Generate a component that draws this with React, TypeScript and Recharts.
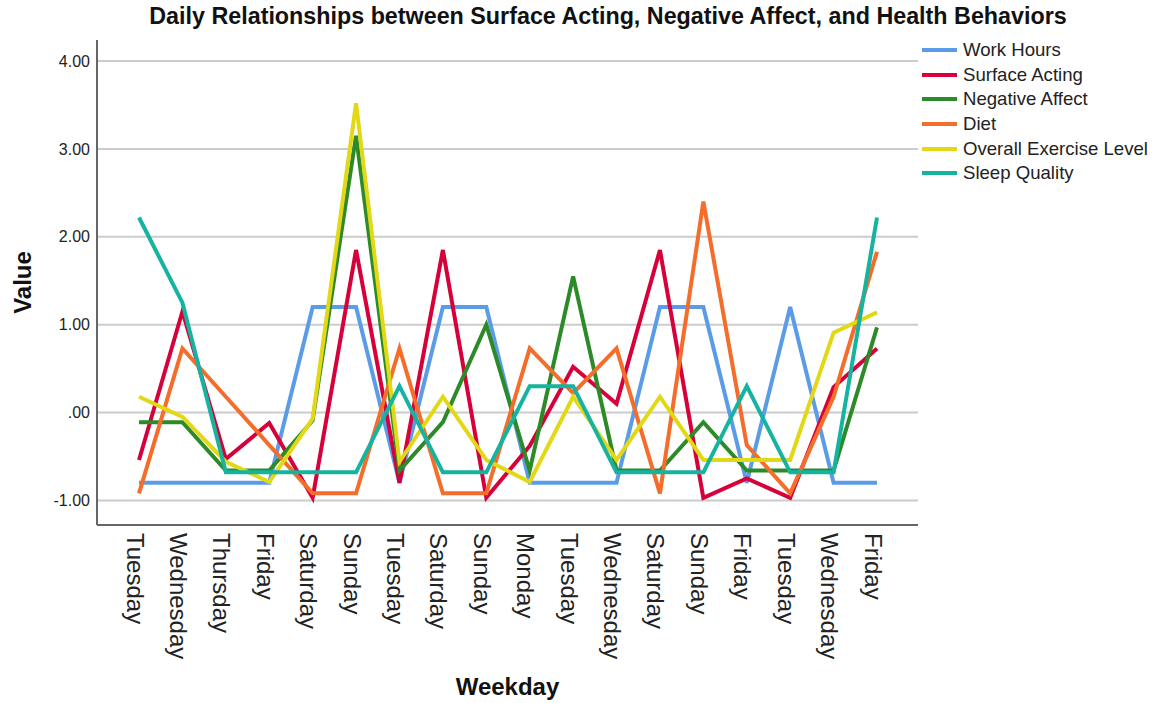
import React from "react";
import { LineChart, Line, XAxis, YAxis, CartesianGrid } from "recharts";

const weekdays = [
  "Tuesday", "Wednesday", "Thursday", "Friday", "Saturday", "Sunday",
  "Tuesday", "Saturday", "Sunday", "Monday", "Tuesday", "Wednesday",
  "Saturday", "Sunday", "Friday", "Tuesday", "Wednesday", "Friday",
];

const workHours = [-0.8, -0.8, -0.8, -0.8, 1.2, 1.2, -0.8, 1.2, 1.2, -0.8, -0.8, -0.8, 1.2, 1.2, -0.8, 1.2, -0.8, -0.8];
const surfaceActing = [-0.54, 1.15, -0.53, -0.12, -0.97, 1.85, -0.8, 1.85, -0.97, -0.38, 0.52, 0.1, 1.85, -0.97, -0.75, -0.97, 0.29, 0.73];
const negativeAffect = [-0.11, -0.11, -0.66, -0.66, -0.09, 3.15, -0.66, -0.11, 1.0, -0.66, 1.55, -0.66, -0.66, -0.11, -0.66, -0.66, -0.66, 0.97];
const diet = [-0.92, 0.73, 0.18, -0.37, -0.92, -0.92, 0.73, -0.92, -0.92, 0.73, 0.22, 0.73, -0.92, 2.4, -0.37, -0.92, 0.18, 1.83];
const exercise = [0.18, -0.05, -0.56, -0.79, -0.07, 3.52, -0.56, 0.18, -0.54, -0.79, 0.18, -0.54, 0.18, -0.54, -0.54, -0.54, 0.91, 1.14];
const sleepQuality = [2.22, 1.25, -0.68, -0.68, -0.68, -0.68, 0.3, -0.68, -0.68, 0.3, 0.3, -0.68, -0.68, -0.68, 0.3, -0.68, -0.68, 2.22];

const yTicks = [-1, 0, 1, 2, 3, 4];

const series = [
  { key: "workHours", name: "Work Hours", color: "#5b9ce8", values: workHours },
  { key: "surfaceActing", name: "Surface Acting", color: "#d6003a", values: surfaceActing },
  { key: "negativeAffect", name: "Negative Affect", color: "#2d8a28", values: negativeAffect },
  { key: "diet", name: "Diet", color: "#f46d2a", values: diet },
  { key: "exercise", name: "Overall Exercise Level", color: "#e3d816", values: exercise },
  { key: "sleepQuality", name: "Sleep Quality", color: "#15b3a0", values: sleepQuality },
];

const data = weekdays.map((day, i) => {
  const row: Record<string, number | string> = { slot: i, day };
  series.forEach((s) => {
    row[s.key] = s.values[i];
  });
  return row;
});

const font = "Arial, 'Liberation Sans', sans-serif";

const fmt = (v: number) => (v === 0 ? ".00" : v.toFixed(2));

const DayTick = (props: any) => {
  const { x, y, payload } = props;
  return (
    <text
      transform={`translate(${x},${y}) rotate(90)`}
      x={0}
      y={12.5}
      textAnchor="start"
      fontSize={24}
      fontFamily={font}
      fill="#222"
    >
      {weekdays[payload.value]}
    </text>
  );
};

// legend drawn outside recharts so it doesn't shrink the plot
const LegendBox = () => (
  <div style={{ position: "absolute", left: 922, top: 38, fontFamily: font, fontSize: 18.6, color: "#222" }}>
    {series.map((s) => (
      <div key={s.key} style={{ display: "flex", alignItems: "center", height: 24.6 }}>
        <div style={{ width: 35, height: 4, background: s.color, marginRight: 6 }} />
        <span style={{ whiteSpace: "nowrap" }}>{s.name}</span>
      </div>
    ))}
  </div>
);

export default function App() {
  return (
    <div style={{ position: "absolute", left: 0, top: 0, width: 1153, height: 703, background: "#fff" }}>
      <div
        style={{
          position: "absolute",
          left: 0,
          top: 3,
          width: 1216,
          textAlign: "center",
          fontFamily: font,
          fontWeight: "bold",
          fontSize: 23.3,
          color: "#111",
        }}
      >
        Daily Relationships between Surface Acting, Negative Affect, and Health Behaviors
      </div>
      <LineChart
        width={1153}
        height={703}
        data={data}
        margin={{ top: 40, right: 235, bottom: 0, left: 0 }}
      >
        <CartesianGrid vertical={false} horizontalValues={yTicks} stroke="#cccccc" strokeWidth={2} />
        <XAxis
          dataKey="slot"
          type="category"
          height={178}
          padding={{ left: 42, right: 41 }}
          tickLine={false}
          axisLine={{ stroke: "#666", strokeWidth: 2 }}
          tick={<DayTick />}
          interval={0}
          label={{
            value: "Weekday",
            position: "insideBottom",
            offset: 8,
            style: { fontFamily: font, fontSize: 24, fontWeight: "bold", fill: "#111" },
          }}
        />
        <YAxis
          width={97}
          domain={[-1.28, 4.24]}
          ticks={yTicks}
          tickFormatter={fmt}
          tickLine={false}
          axisLine={{ stroke: "#666", strokeWidth: 2 }}
          tick={{ fontFamily: font, fontSize: 16, fill: "#222" }}
          tickMargin={1}
          label={{
            value: "Value",
            angle: -90,
            position: "insideLeft",
            offset: 22,
            style: { fontFamily: font, fontSize: 24, fontWeight: "bold", fill: "#111", textAnchor: "middle" },
          }}
        />
        {series.map((s) => (
          <Line
            key={s.key}
            type="linear"
            dataKey={s.key}
            name={s.name}
            stroke={s.color}
            strokeWidth={4}
            dot={false}
            activeDot={false}
            isAnimationActive={false}
          />
        ))}
      </LineChart>
      <LegendBox />
    </div>
  );
}
